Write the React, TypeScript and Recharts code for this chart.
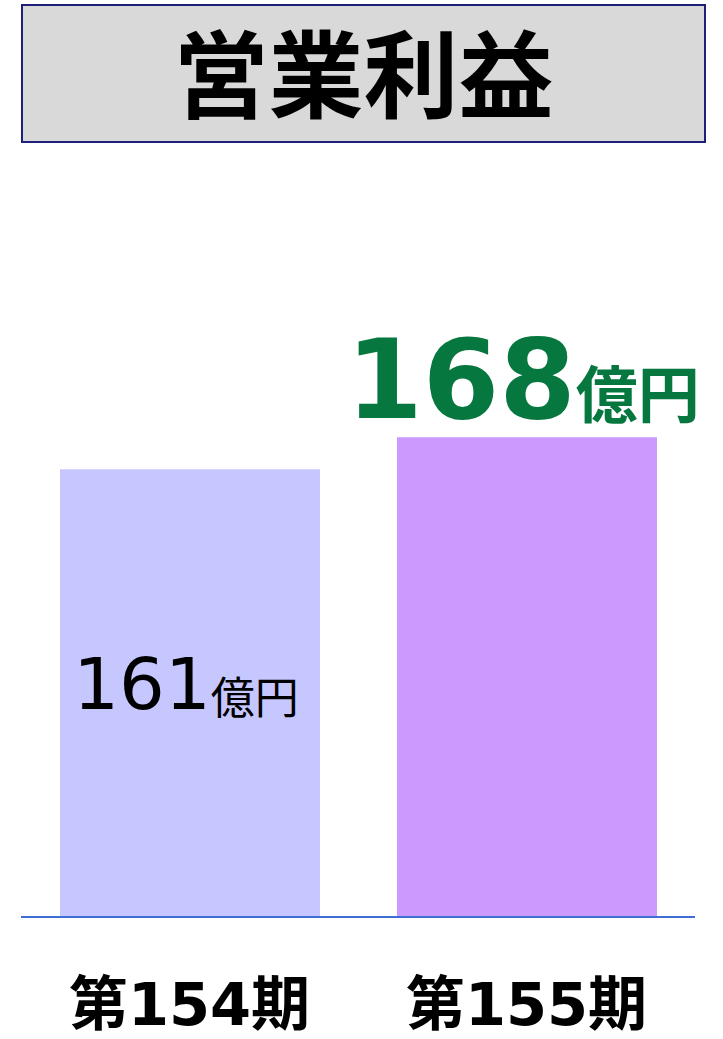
import React from 'react';
import { BarChart, Bar, XAxis, YAxis, Cell } from 'recharts';

const title = '営業利益';
const periods = ['第154期', '第155期'];
const profits = [161, 168];
const unit = '億円';
const barColors = ['#C7C7FF', '#CC99FF'];

const data = periods.map((period, i) => ({ period, profit: profits[i] }));

const latinCjk = '"DejaVu Sans", "Noto Sans CJK JP", sans-serif';

function PeriodTick({ x, payload }: any) {
  return (
    <text
      x={x}
      y={1025}
      textAnchor="middle"
      fontFamily={latinCjk}
      fontWeight="bold"
      fontSize={59}
      fill="#000"
    >
      {payload.value}
    </text>
  );
}

function ValueLabel(props: any) {
  const { x, y, width, value, index } = props;
  const cx = x + width / 2;
  if (index === periods.length - 1) {
    // latest period: big green label above the bar
    return (
      <text x={cx - 4} y={y - 19} textAnchor="middle" fill="#06783F" fontFamily={latinCjk} fontWeight="bold">
        <tspan fontSize={110}>{value}</tspan>
        <tspan fontSize={62} fontFamily='"Noto Sans CJK JP", sans-serif'>{unit}</tspan>
      </text>
    );
  }
  return (
    <text x={cx - 4} y={y + 240} textAnchor="middle" fill="#000" fontFamily={latinCjk}>
      <tspan fontSize={72}>{value}</tspan>
      <tspan fontSize={44} fontFamily='"Noto Sans CJK JP", sans-serif' dy={5}>{unit}</tspan>
    </text>
  );
}

export default function App() {
  return (
    <div style={{ position: 'absolute', left: 0, top: 0, width: 723, height: 1039, background: '#fff' }}>
      <div
        style={{
          position: 'absolute',
          left: 21,
          top: 4,
          width: 685,
          height: 139,
          boxSizing: 'border-box',
          background: '#D9D9D9',
          border: '2px solid #1F1F78',
          display: 'flex',
          alignItems: 'center',
          justifyContent: 'center',
          paddingBottom: 8,
          fontFamily: '"Noto Sans CJK JP", sans-serif',
          fontWeight: 'bold',
          fontSize: 95,
          lineHeight: 1,
          color: '#000',
        }}
      >
        {title}
      </div>
      <BarChart
        width={723}
        height={1039}
        data={data}
        margin={{ top: 291, right: 28, bottom: 0, left: 21 }}
      >
        <XAxis
          dataKey="period"
          height={122}
          tickLine={false}
          axisLine={{ stroke: '#3F6FD0', strokeWidth: 2 }}
          tick={<PeriodTick />}
          interval={0}
        />
        <YAxis hide domain={[63, 200]} />
        <Bar dataKey="profit" barSize={260} isAnimationActive={false} label={<ValueLabel />}>
          {data.map((d, i) => (
            <Cell key={d.period} fill={barColors[i]} />
          ))}
        </Bar>
      </BarChart>
    </div>
  );
}
